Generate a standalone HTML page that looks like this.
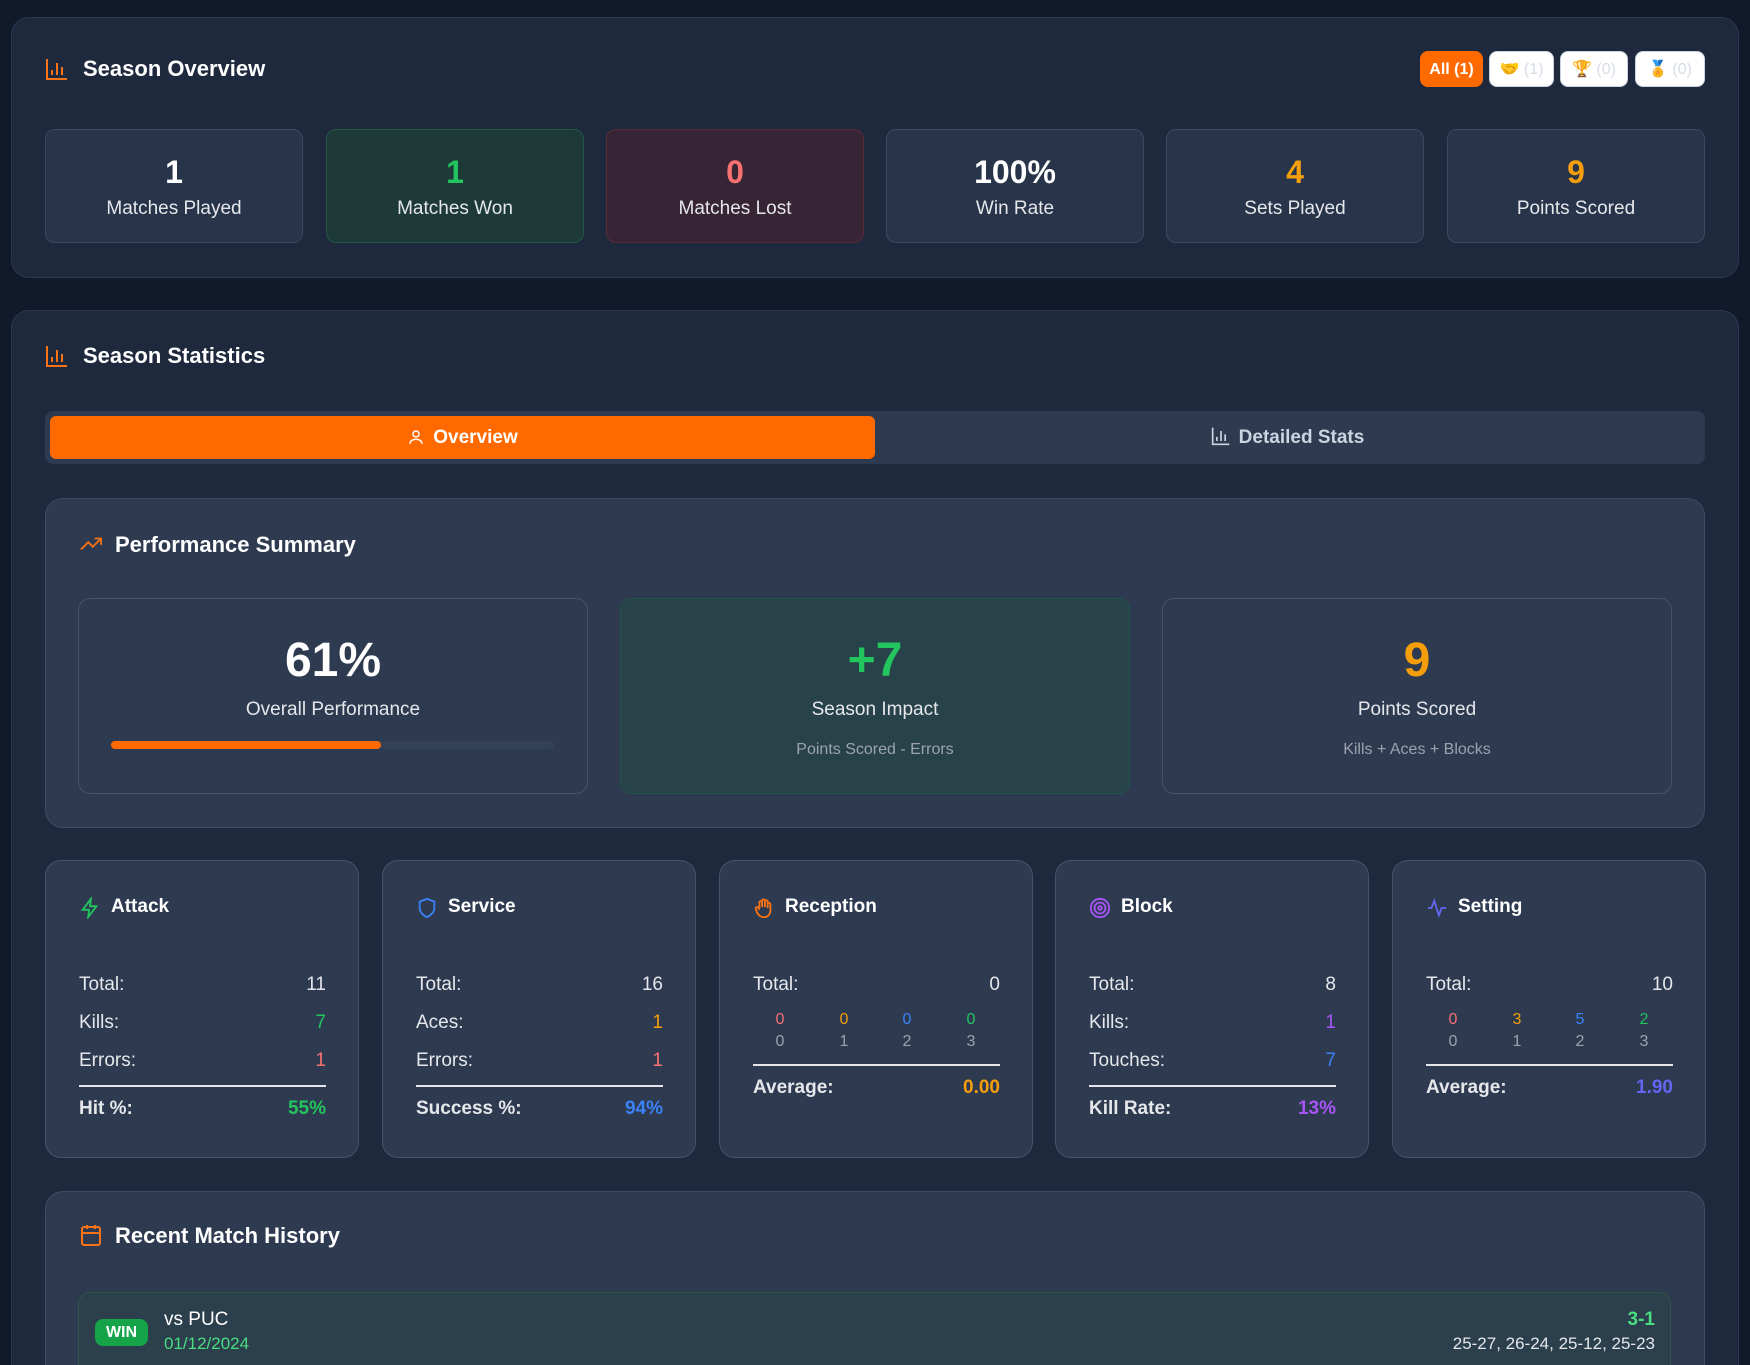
<!DOCTYPE html>
<html><head><meta charset="utf-8"><style>
*{box-sizing:border-box;margin:0;padding:0}
html{width:1750px;height:1365px;overflow:hidden}
body{width:1750px;height:1365px;overflow:hidden;background:#111a2b;font-family:"Liberation Sans",sans-serif;color:#fff;position:relative}
.a{position:absolute}
.sec{position:absolute;background:#1e293d;border:1px solid #2c3850;border-radius:18px}
.h{font-weight:bold;font-size:22px;color:#fff}
.sb{position:absolute;top:129px;width:258px;height:114px;border:1px solid #3b4860;border-radius:10px;background:#273449;text-align:center}
.sb .n{position:absolute;top:24px;left:0;right:0;font-size:32px;font-weight:bold}
.sb .l{position:absolute;top:68px;left:0;right:0;font-size:19px;color:#e5e7eb}
.btn{position:absolute;top:51px;height:36px;border-radius:8px;background:#fff;color:#d6dde8;font-size:16px;text-align:center;line-height:36px;border:1px solid #cbd5e1}
.card{position:absolute;background:#2d3a50;border:1px solid #3e4b63;border-radius:18px}
.pb{position:absolute;top:598px;width:510px;height:196px;border:1px solid #45526a;border-radius:12px;background:#2d3a50;text-align:center}
.pb .n{position:absolute;top:34px;left:0;right:0;font-size:48px;font-weight:bold}
.pb .l{position:absolute;top:100px;left:0;right:0;font-size:19px;color:#e5e7eb}
.pb .s{position:absolute;top:142px;left:0;right:0;font-size:16px;color:#9ca3af}
.sc{position:absolute;top:860px;width:314px;height:298px;background:#2d3a50;border:1px solid #45526a;border-radius:16px}
.sc .t{position:absolute;top:35px;left:65px;font-size:19px;font-weight:bold}
.sc .ic{position:absolute;top:36px;left:33px;width:22px;height:22px}
.row{position:absolute;left:33px;right:32px;font-size:19px;color:#e5e7eb}
.row span{float:right}
.line{position:absolute;left:33px;right:32px;height:2px;background:#e5e7eb}
.g{position:absolute;width:30px;text-align:center;font-size:16px}
</style></head><body>
<div class="sec" style="left:11px;top:17px;width:1728px;height:261px"></div>
<svg class="a" style="left:45px;top:57px" width="24" height="24" viewBox="0 0 24 24" fill="none" stroke="#f97316" stroke-width="2"><path d="M2 2v20h20M7 18v-5M12 18V6M17 18v-8"/></svg>
<div class="a h" style="left:83px;top:56px">Season Overview</div>
<div class="btn" style="left:1420px;width:63px;background:#ff6a00;border-color:#ff6a00;color:#fff;font-weight:bold">All (1)</div>
<div class="btn" style="left:1489px;width:65px">🤝 (1)</div>
<div class="btn" style="left:1560px;width:68px">🏆 (0)</div>
<div class="btn" style="left:1635px;width:70px">🏅 (0)</div>
<div class="sb" style="left:45px"><div class="n">1</div><div class="l">Matches Played</div></div>
<div class="sb" style="left:326px;background:#1d3a38;border-color:#235446"><div class="n" style="color:#22c55e">1</div><div class="l">Matches Won</div></div>
<div class="sb" style="left:606px;background:#372535;border-color:#5a2a36"><div class="n" style="color:#f87171">0</div><div class="l">Matches Lost</div></div>
<div class="sb" style="left:886px"><div class="n">100%</div><div class="l">Win Rate</div></div>
<div class="sb" style="left:1166px"><div class="n" style="color:#f59e0b">4</div><div class="l">Sets Played</div></div>
<div class="sb" style="left:1447px"><div class="n" style="color:#f59e0b">9</div><div class="l">Points Scored</div></div>

<div class="sec" style="left:11px;top:310px;width:1728px;height:1055px;border-bottom:none;border-radius:18px 18px 0 0"></div>
<svg class="a" style="left:45px;top:344px" width="24" height="24" viewBox="0 0 24 24" fill="none" stroke="#f97316" stroke-width="2"><path d="M2 2v20h20M7 18v-5M12 18V6M17 18v-8"/></svg>
<div class="a h" style="left:83px;top:343px">Season Statistics</div>
<div class="a" style="left:45px;top:411px;width:1660px;height:53px;background:#2d3a50;border-radius:8px"></div>
<div class="a" style="left:50px;top:416px;width:825px;height:43px;background:#ff6a00;border-radius:6px;text-align:center;line-height:43px;font-size:19px;font-weight:bold">
<svg style="vertical-align:-3px;margin-right:8px" width="18" height="18" viewBox="0 0 24 24" fill="none" stroke="#fff" stroke-width="2"><circle cx="12" cy="8" r="4"/><path d="M4 21c0-4 4-6 8-6s8 2 8 6"/></svg>Overview</div>
<div class="a" style="left:875px;top:416px;width:825px;height:43px;text-align:center;line-height:43px;font-size:19px;color:#cbd5e1;font-weight:bold">
<svg style="vertical-align:-3px;margin-right:8px" width="20" height="20" viewBox="0 0 24 24" fill="none" stroke="#cbd5e1" stroke-width="2"><path d="M2 2v20h20M7 18v-5M12 18V6M17 18v-8"/></svg>Detailed Stats</div>

<div class="card" style="left:45px;top:498px;width:1660px;height:330px"></div>
<svg class="a" style="left:78px;top:533px" width="26" height="22" viewBox="0 0 24 24" fill="none" stroke="#f97316" stroke-width="2"><path d="M1 18l8-8 5 5 9-9M16 6h7v7"/></svg>
<div class="a h" style="left:115px;top:532px">Performance Summary</div>
<div class="pb" style="left:78px"><div class="n">61%</div><div class="l">Overall Performance</div>
<div class="a" style="left:32px;top:142px;width:443px;height:8px;background:#334155;border-radius:4px"><div style="width:270px;height:8px;background:#ff6a00;border-radius:4px"></div></div></div>
<div class="pb" style="left:620px;background:#28424a;border-color:#235446"><div class="n" style="color:#22c55e">+7</div><div class="l">Season Impact</div><div class="s">Points Scored - Errors</div></div>
<div class="pb" style="left:1162px"><div class="n" style="color:#f59e0b">9</div><div class="l">Points Scored</div><div class="s">Kills + Aces + Blocks</div></div>

<div class="sc" style="left:45px"><svg class="ic" viewBox="0 0 24 24" fill="none" stroke="#22c55e" stroke-width="2"><path d="M13 2L4 14h7l-1 8 9-12h-7z"/></svg><div class="t">Attack</div>
<div class="row" style="top:113px">Total:<span>11</span></div>
<div class="row" style="top:151px">Kills:<span style="color:#22c55e">7</span></div>
<div class="row" style="top:189px">Errors:<span style="color:#f87171">1</span></div>
<div class="line" style="top:224px"></div>
<div class="row" style="top:237px;font-weight:bold">Hit %:<span style="color:#22c55e">55%</span></div></div>

<div class="sc" style="left:382px"><svg class="ic" viewBox="0 0 24 24" fill="none" stroke="#3b82f6" stroke-width="2"><path d="M12 2l8 3v7c0 5-4 8-8 10-4-2-8-5-8-10V5z"/></svg><div class="t">Service</div>
<div class="row" style="top:113px">Total:<span>16</span></div>
<div class="row" style="top:151px">Aces:<span style="color:#f59e0b">1</span></div>
<div class="row" style="top:189px">Errors:<span style="color:#f87171">1</span></div>
<div class="line" style="top:224px"></div>
<div class="row" style="top:237px;font-weight:bold">Success %:<span style="color:#3b82f6">94%</span></div></div>

<div class="sc" style="left:719px"><svg class="ic" viewBox="0 0 24 24" fill="none" stroke="#f97316" stroke-width="2"><path d="M7 12V6a1.5 1.5 0 013 0v5M10 11V4a1.5 1.5 0 013 0v7M13 11V5a1.5 1.5 0 013 0v7M16 12V8a1.5 1.5 0 013 0v6c0 5-3 8-7 8s-6-2-8-6l-1-3a1.5 1.5 0 013-1l1 2"/></svg><div class="t">Reception</div>
<div class="row" style="top:113px">Total:<span>0</span></div>
<div class="g" style="left:45px;top:150px;color:#f87171">0</div><div class="g" style="left:109px;top:150px;color:#f59e0b">0</div><div class="g" style="left:172px;top:150px;color:#3b82f6">0</div><div class="g" style="left:236px;top:150px;color:#22c55e">0</div>
<div class="g" style="left:45px;top:172px;color:#9ca3af">0</div><div class="g" style="left:109px;top:172px;color:#9ca3af">1</div><div class="g" style="left:172px;top:172px;color:#9ca3af">2</div><div class="g" style="left:236px;top:172px;color:#9ca3af">3</div>
<div class="line" style="top:203px"></div>
<div class="row" style="top:216px;font-weight:bold">Average:<span style="color:#f59e0b">0.00</span></div></div>

<div class="sc" style="left:1055px"><svg class="ic" viewBox="0 0 24 24" fill="none" stroke="#a855f7" stroke-width="2"><circle cx="12" cy="12" r="10"/><circle cx="12" cy="12" r="6"/><circle cx="12" cy="12" r="2"/></svg><div class="t">Block</div>
<div class="row" style="top:113px">Total:<span>8</span></div>
<div class="row" style="top:151px">Kills:<span style="color:#a855f7">1</span></div>
<div class="row" style="top:189px">Touches:<span style="color:#3b82f6">7</span></div>
<div class="line" style="top:224px"></div>
<div class="row" style="top:237px;font-weight:bold">Kill Rate:<span style="color:#a855f7">13%</span></div></div>

<div class="sc" style="left:1392px"><svg class="ic" viewBox="0 0 24 24" fill="none" stroke="#6366f1" stroke-width="2"><path d="M2 12h4l3-8 5 16 3-8h5"/></svg><div class="t">Setting</div>
<div class="row" style="top:113px">Total:<span>10</span></div>
<div class="g" style="left:45px;top:150px;color:#f87171">0</div><div class="g" style="left:109px;top:150px;color:#f59e0b">3</div><div class="g" style="left:172px;top:150px;color:#3b82f6">5</div><div class="g" style="left:236px;top:150px;color:#22c55e">2</div>
<div class="g" style="left:45px;top:172px;color:#9ca3af">0</div><div class="g" style="left:109px;top:172px;color:#9ca3af">1</div><div class="g" style="left:172px;top:172px;color:#9ca3af">2</div><div class="g" style="left:236px;top:172px;color:#9ca3af">3</div>
<div class="line" style="top:203px"></div>
<div class="row" style="top:216px;font-weight:bold">Average:<span style="color:#6366f1">1.90</span></div></div>

<div class="card" style="left:45px;top:1191px;width:1660px;height:174px;border-bottom:none;border-radius:18px 18px 0 0"></div>
<svg class="a" style="left:79px;top:1223px" width="24" height="24" viewBox="0 0 24 24" fill="none" stroke="#f97316" stroke-width="2"><rect x="3" y="4" width="18" height="18" rx="2"/><path d="M3 10h18M8 2v4M16 2v4"/></svg>
<div class="a h" style="left:115px;top:1223px">Recent Match History</div>
<div class="a" style="left:78px;top:1292px;width:1593px;height:73px;background:#2b3f4c;border:1px solid #2f5548;border-bottom:none;border-radius:12px 12px 0 0"></div>
<div class="a" style="left:95px;top:1319px;width:53px;height:27px;background:#16a34a;border-radius:8px;text-align:center;line-height:27px;font-size:16px;font-weight:bold">WIN</div>
<div class="a" style="left:164px;top:1309px;font-size:19px">vs PUC</div>
<div class="a" style="left:164px;top:1334px;font-size:17px;color:#4ade80">01/12/2024</div>
<div class="a" style="right:95px;top:1309px;font-size:19px;color:#4ade80;font-weight:bold">3-1</div>
<div class="a" style="right:95px;top:1334px;font-size:17px;color:#e5e7eb">25-27, 26-24, 25-12, 25-23</div>
</body></html>
